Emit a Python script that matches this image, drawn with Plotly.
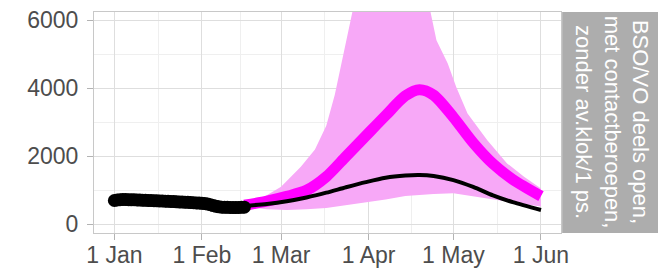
import pandas as pd
import plotly.graph_objects as go

# ---------------- data ----------------
obs_start = "2021-01-01"
obs_values = [700, 715, 725, 730, 728, 725, 720, 722, 718, 712,
              708, 705, 700, 698, 695, 690, 688, 685, 680, 676,
              672, 668, 662, 658, 655, 650, 645, 640, 635, 630, 625,
              618, 610, 595, 575, 550, 530, 515, 505, 500, 498,
              495, 493, 492, 495, 500, 505]

model_dates = ["2021-02-16", "2021-02-24", "2021-03-03", "2021-03-10", "2021-03-17",
               "2021-03-24", "2021-03-31", "2021-04-07", "2021-04-14", "2021-04-19",
               "2021-04-24", "2021-05-01", "2021-05-08", "2021-05-15", "2021-05-22",
               "2021-06-01"]
scenario_values = [560, 680, 820, 1000, 1400, 2000, 2600, 3200, 3780, 3960,
                   3800, 3150, 2400, 1780, 1320, 830]
reference_values = [540, 600, 680, 790, 930, 1090, 1240, 1370, 1435, 1450,
                    1420, 1300, 1100, 850, 650, 420]
band_lower = [520, 440, 420, 440, 480, 560, 650, 730, 830, 870,
              890, 910, 840, 730, 640, 520]

upper_dates = ["2021-02-16", "2021-02-22", "2021-03-01", "2021-03-08", "2021-03-13",
               "2021-03-17", "2021-03-20", "2021-03-23", "2021-03-27", "2021-04-01",
               "2021-04-10", "2021-04-18", "2021-04-22", "2021-04-25", "2021-04-29",
               "2021-05-02", "2021-05-06", "2021-05-13", "2021-05-20", "2021-05-26",
               "2021-06-01"]
band_upper = [600, 760, 1104, 1692, 2200, 2900, 3800, 5000, 6500, 8500,
              9500, 8500, 6600, 5413, 4729, 4041, 3260, 2476, 1792, 1398, 1050]

y_ticks = [0, 2000, 4000, 6000]
y_minor = [1000, 3000, 5000]
x_ticks = ["2021-01-01", "2021-02-01", "2021-03-01", "2021-04-01", "2021-05-01", "2021-06-01"]
x_ticklabels = ["1 Jan", "1 Feb", "1 Mar", "1 Apr", "1 May", "1 Jun"]
x_minor = ["2021-01-16 12:00", "2021-02-14 12:00", "2021-03-16 12:00",
           "2021-04-16", "2021-05-16 12:00"]
strip_label = "BSO/VO deels open,<br>met contactberoepen,<br>zonder av.klok/1 ps."

# ---------------- figure ----------------
obs_dates = pd.date_range(obs_start, periods=len(obs_values), freq="D")

fig = go.Figure()

# ribbon
fig.add_trace(go.Scatter(
    x=list(upper_dates) + list(reversed(model_dates)),
    y=list(band_upper) + list(reversed(band_lower)),
    fill="toself", fillcolor="#F7A8F7", line=dict(width=0),
    mode="lines", hoverinfo="skip", showlegend=False))

# scenario (magenta)
fig.add_trace(go.Scatter(
    x=model_dates, y=scenario_values, mode="lines",
    line=dict(color="#FF00FF", width=11, shape="spline", smoothing=0.8),
    showlegend=False))

# reference (black)
fig.add_trace(go.Scatter(
    x=model_dates, y=reference_values, mode="lines",
    line=dict(color="#000000", width=4, shape="spline", smoothing=0.8),
    showlegend=False))

# observations
fig.add_trace(go.Scatter(
    x=obs_dates, y=obs_values, mode="markers",
    marker=dict(color="#000000", size=13, line=dict(width=0)),
    showlegend=False))

grid_major = "#DEDEDE"
grid_minor = "#EFEFEF"
tick_font = dict(family="Liberation Sans, Arial, sans-serif", size=23, color="#4D4D4D")

fig.update_layout(
    width=658, height=268,
    margin=dict(l=94, r=97, t=12, b=35, autoexpand=False),
    paper_bgcolor="white", plot_bgcolor="white",
    xaxis=dict(
        type="date", automargin=False,
        range=["2020-12-24 19:00", "2021-06-08 02:00"],
        tickmode="array", tickvals=x_ticks, ticktext=x_ticklabels,
        tickfont=tick_font, ticklabelstandoff=-5,
        showgrid=True, gridcolor=grid_major, gridwidth=1,
        minor=dict(tickmode="array", tickvals=x_minor, showgrid=True,
                   gridcolor=grid_minor, gridwidth=1, ticks=""),
        ticks="outside", ticklen=6, tickcolor="#B3B3B3", tickwidth=1,
        showline=True, linecolor="#C8C8C8", linewidth=1, mirror=True,
        zeroline=False,
    ),
    yaxis=dict(
        automargin=False,
        range=[-256, 6245],
        tickmode="array", tickvals=y_ticks,
        tickfont=tick_font, ticklabelstandoff=4,
        showgrid=True, gridcolor=grid_major, gridwidth=1,
        minor=dict(tickmode="array", tickvals=y_minor, showgrid=True,
                   gridcolor=grid_minor, gridwidth=1, ticks=""),
        ticks="outside", ticklen=6, tickcolor="#B3B3B3", tickwidth=1,
        showline=True, linecolor="#C8C8C8", linewidth=1, mirror=True,
        zeroline=False,
    ),
)

# facet strip on the right
fig.add_shape(type="rect", xref="paper", yref="paper",
              x0=1.0025, x1=1.215, y0=0, y1=1,
              fillcolor="#ADADAD", line=dict(width=0), layer="above")
fig.add_annotation(xref="paper", yref="paper", x=1.111, y=0.5,
                   text=strip_label, showarrow=False, textangle=90,
                   xanchor="center", yanchor="middle", align="center",
                   font=dict(family="Liberation Sans, Arial, sans-serif", size=22, color="white"))

fig.write_html("out.html", config={"displayModeBar": False},
               post_script="document.body.style.margin='0';document.body.style.padding='0';")
